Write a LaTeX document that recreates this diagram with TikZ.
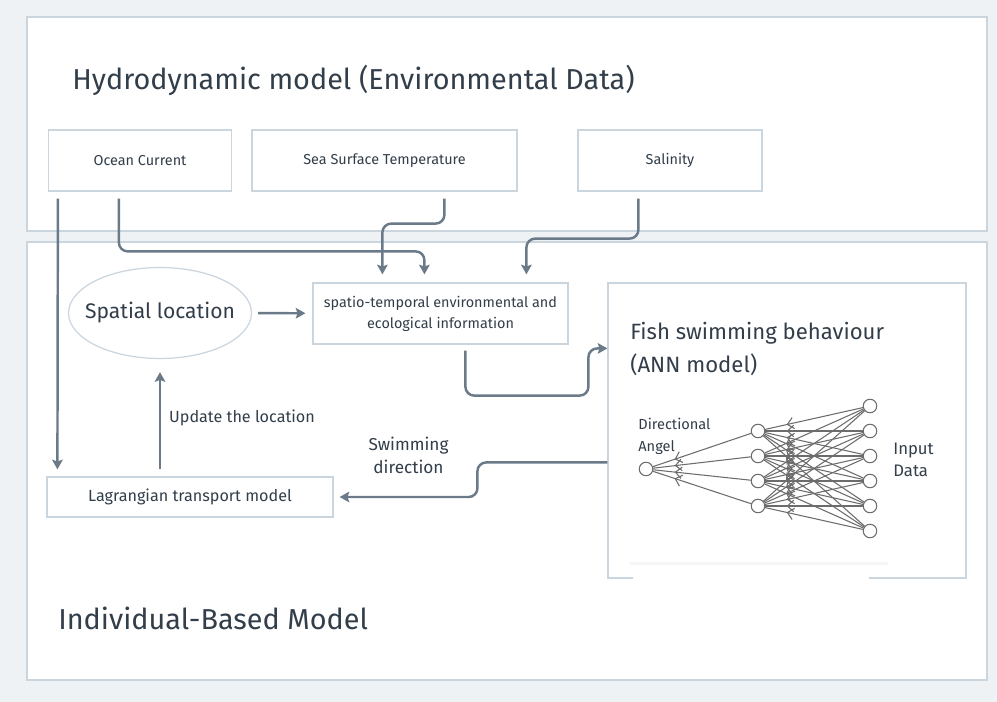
\documentclass[tikz,border=0pt]{standalone}
\usepackage{fontspec}
\setmainfont{Fira Sans}
\usetikzlibrary{arrows,arrows.meta,positioning,calc,shapes.geometric,decorations.markings,shadows}
\definecolor{pagegray}{HTML}{EEF2F5}
\definecolor{rulegray}{HTML}{CBD5DE}
\definecolor{linkgray}{HTML}{6A7A89}
\definecolor{inkgray}{HTML}{323E4A}
\definecolor{netgray}{HTML}{6C6C6C}

\begin{document}
\begin{tikzpicture}[x=0.02cm, y=-0.02cm, >={Stealth[length=5.5pt,width=6pt,inset=1pt]},
  panel/.style={draw=rulegray, line width=0.7pt, fill=white},
  databox/.style={draw=rulegray, line width=0.7pt, fill=white, text=inkgray, inner sep=0pt,
    minimum height=1.22cm, font=\fontsize{8.2}{12}\selectfont},
  link/.style={draw=linkgray, line width=1.4pt, rounded corners=5pt},
  lbl/.style={text=inkgray, inner sep=0pt},
  neuron/.style={circle, draw=netgray, fill=white, line width=0.6pt, minimum size=0.27cm, inner sep=0pt},
  synapse/.style={draw=netgray, line width=0.6pt, postaction={decorate},
    decoration={markings, mark=at position 0.78 with {\arrow{Straight Barb[length=3.5pt,width=6.5pt]}}}}]

  % Background and panels
  \useasboundingbox (0,0) rectangle (997,702);
  \fill[pagegray] (0,0) rectangle (997,702);
  \draw[panel] (27,17) rectangle (987,231);
  \draw[panel] (27,242) rectangle (987,680);

  % Titles
  \node (hydro) [lbl, anchor=base west, font=\fontsize{16.4}{20}\selectfont] at (72,90) {Hydrodynamic model (Environmental Data)};
  \node (ibm) [lbl, anchor=base west, font=\fontsize{16.4}{20}\selectfont] at (58,629) {Individual-Based Model};

  % Environmental data
  \node (ocean) [databox, minimum width=3.66cm] at (140,160.5) {Ocean Current};
  \node (sst) [databox, minimum width=5.3cm] at (384.5,160.5) {Sea Surface Temperature};
  \node (salinity) [databox, minimum width=3.68cm] at (670,160.5) {Salinity};

  % Individual-based model
  \node (spatial) [ellipse, draw=rulegray, line width=0.7pt, fill=white, minimum width=3.66cm,
    minimum height=1.82cm, inner sep=0pt, inner xsep=-0.26cm, text=inkgray, font=\fontsize{12}{14}\selectfont] at (160,313) {Spatial location};
  \node (envinfo) [databox, minimum width=5.1cm, align=center] at (440.5,313.5) {spatio-temporal environmental and\\ecological information};
  \node (lagrange) [databox, minimum width=5.72cm, minimum height=0.8cm, font=\fontsize{9.2}{11}\selectfont] at (190,497) {Lagrangian transport model};
  \node (fish) [databox, minimum width=7.16cm, minimum height=5.9cm] at (787,430.5) {};
  \node (fishlbl) [lbl, anchor=north west, align=left, font=\fontsize{12.6}{18.8}\selectfont] at (630,322) {Fish swimming behaviour\\(ANN model)};

  % ANN sketch
  \node (net) [fill=white, drop shadow={opacity=0.08, shadow xshift=0pt, shadow yshift=-1.5pt},
    minimum width=5.16cm, minimum height=3.38cm, inner sep=0pt] at (759,477.5) {};
  \fill[white] (633,568) rectangle (869,580);
  \node (out) [neuron] at (646,469) {};
  \foreach \i/\y in {1/431,2/456,3/481,4/506} \node (h\i) [neuron] at (758,\y) {};
  \foreach \i/\y in {1/406,2/431,3/456,4/481,5/506,6/531} \node (in\i) [neuron] at (870,\y) {};
  \foreach \i in {1,...,6} \foreach \j in {1,...,4} \draw[synapse] (in\i) -- (h\j);
  \foreach \j in {1,...,4} \draw[synapse] (h\j) -- (out);
  \node (angle) [lbl, anchor=west, align=left, font=\fontsize{8.3}{12.5}\selectfont] at (638,436) {Directional\\Angel};
  \node (input) [lbl, anchor=west, align=left, font=\fontsize{9.5}{12.5}\selectfont] at (893,460) {Input\\Data};

  % Connectors
  \draw[link,->] ($(ocean.south west)+(10,7)$) -- ($(lagrange.north west)+(11,-7)$);
  \draw[link,->] ($(ocean.south west)+(71,7)$) |- ($(envinfo.north west)+(112,-31)$) -- ($(envinfo.north west)+(112,-8)$);
  \draw[link,->] ($(sst.south west)+(193,7)$) -- ++(0,25) -| ($(envinfo.north west)+(70,-8)$);
  \draw[link,->] ($(salinity.south west)+(61,7)$) -- ++(0,40) -| ($(envinfo.north west)+(214,-8)$);
  \draw[link,->,shorten <=0.12cm,shorten >=0.14cm] (spatial) -- (envinfo);
  \draw[link,->] ($(envinfo.south west)+(153,6)$) -- ++(0,45) -- ++(123,0) |- ($(fish.north west)+(0,66)$);
  \draw[link,->] ($(fish.north west)+(0,180)$) -- ++(-130,0) |- ($(lagrange.east)+(6,0)$)
    node[lbl, pos=0.75, above=0.44cm, align=center, font=\fontsize{9.8}{13}\selectfont] {Swimming\\direction};
  \draw[link,->,shorten <=0.14cm,shorten >=0.26cm] (lagrange.north -| spatial.south) -- (spatial.south)
    node[lbl, midway, right=0.16cm, font=\fontsize{9.2}{11}\selectfont] {Update the location};
\end{tikzpicture}
\end{document}
